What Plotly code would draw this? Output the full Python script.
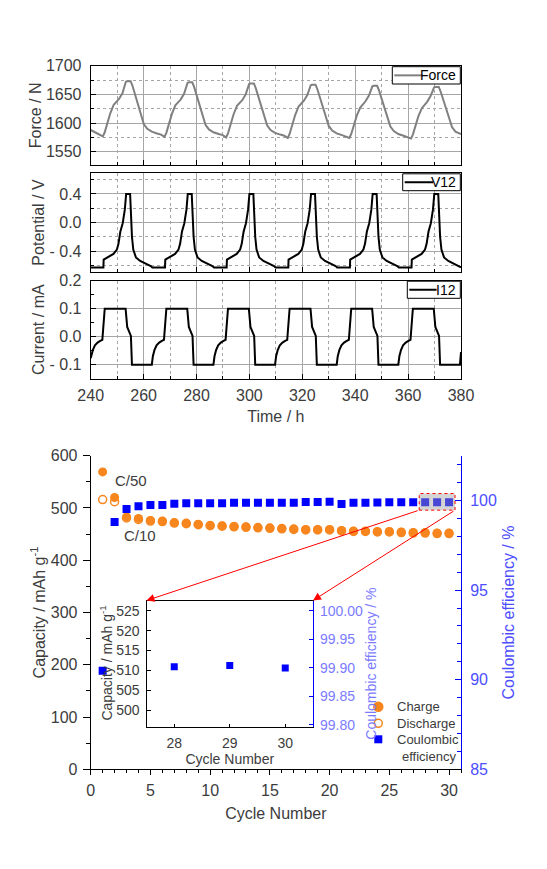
import plotly.graph_objects as go

# ---------------- data: top panels (time series) ----------------
T_FORCE = [240.0, 242.0, 244.6,
           245.3, 247.4, 248.7, 249.9, 250.7, 252.0, 253.3, 253.8, 255.1, 255.8, 257.0, 258.6, 260.1, 261.4, 263.1, 265.1, 266.6, 267.9,
           268.6, 270.7, 272.0, 273.2, 274.0, 275.3, 276.6, 277.1, 278.4, 279.1, 280.3, 281.9, 283.4, 284.7, 286.4, 288.4, 289.9, 291.2,
           291.9, 294.0, 295.3, 296.5, 297.3, 298.6, 299.9, 300.4, 301.7, 302.4, 303.6, 305.2, 306.7, 308.0, 309.7, 311.7, 313.2, 314.5,
           315.2, 317.3, 318.6, 319.8, 320.6, 321.9, 323.2, 323.7, 325.0, 325.7, 326.9, 328.5, 330.0, 331.3, 333.0, 335.0, 336.5, 337.8,
           338.5, 340.6, 341.9, 343.1, 343.9, 345.2, 346.5, 347.0, 348.3, 349.0, 350.2, 351.8, 353.3, 354.6, 356.3, 358.3, 359.8, 361.1,
           361.8, 363.9, 365.2, 366.4, 367.2, 368.5, 369.8, 370.3, 371.6, 372.3, 373.5, 375.1, 376.6, 377.9, 379.6, 380.0]
FORCE = [1588, 1583, 1577,
         1584, 1617, 1632, 1638, 1642, 1652, 1672, 1673, 1673, 1665, 1646, 1624, 1598, 1590, 1585, 1582, 1580, 1576,
         1583, 1616, 1631, 1637, 1641, 1651, 1670, 1671, 1671, 1663, 1645, 1622, 1597, 1589, 1584, 1581, 1579, 1575,
         1582, 1615, 1630, 1636, 1640, 1650, 1668, 1669, 1669, 1661, 1643, 1621, 1596, 1588, 1583, 1580, 1578, 1574,
         1581, 1614, 1629, 1635, 1639, 1649, 1666, 1667, 1667, 1659, 1641, 1619, 1595, 1587, 1582, 1579, 1577, 1574,
         1581, 1613, 1627, 1634, 1638, 1648, 1664, 1665, 1665, 1657, 1640, 1618, 1594, 1586, 1581, 1578, 1576, 1573,
         1580, 1612, 1626, 1633, 1637, 1647, 1662, 1663, 1663, 1655, 1638, 1616, 1593, 1585, 1582, 1581]

T_V12 = [240.0, 244.8,
         244.9, 246.6, 248.6, 249.9, 250.5, 251.2, 252.1, 252.9, 253.4, 254.9, 255.2, 255.6, 256.1, 257.1, 258.7, 261.1, 262.7, 263.3, 268.1,
         268.2, 269.9, 271.9, 273.2, 273.8, 274.5, 275.4, 276.2, 276.7, 278.2, 278.5, 278.9, 279.4, 280.4, 282.0, 284.4, 286.0, 286.6, 291.4,
         291.5, 293.2, 295.2, 296.5, 297.1, 297.8, 298.7, 299.5, 300.0, 301.5, 301.8, 302.2, 302.7, 303.7, 305.3, 307.7, 309.3, 309.9, 314.7,
         314.8, 316.5, 318.5, 319.8, 320.4, 321.1, 322.0, 322.8, 323.3, 324.8, 325.1, 325.5, 326.0, 327.0, 328.6, 331.0, 332.6, 333.2, 338.0,
         338.1, 339.8, 341.8, 343.1, 343.7, 344.4, 345.3, 346.1, 346.6, 348.1, 348.4, 348.8, 349.3, 350.3, 351.9, 354.3, 355.9, 356.5, 361.3,
         361.4, 363.1, 365.1, 366.4, 367.0, 367.7, 368.6, 369.4, 369.9, 371.4, 371.7, 372.1, 372.6, 373.6, 375.2, 377.6, 379.2, 380.0]
V12 = [-0.63, -0.63,
       -0.52, -0.48, -0.44, -0.38, -0.30, -0.13, -0.01, 0.18, 0.40, 0.40, 0.10, -0.20, -0.38, -0.49, -0.54, -0.58, -0.61, -0.63, -0.63,
       -0.52, -0.48, -0.44, -0.38, -0.30, -0.13, -0.01, 0.18, 0.40, 0.40, 0.10, -0.20, -0.38, -0.49, -0.54, -0.58, -0.61, -0.63, -0.63,
       -0.52, -0.48, -0.44, -0.38, -0.30, -0.13, -0.01, 0.18, 0.40, 0.40, 0.10, -0.20, -0.38, -0.49, -0.54, -0.58, -0.61, -0.63, -0.63,
       -0.52, -0.48, -0.44, -0.38, -0.30, -0.13, -0.01, 0.18, 0.40, 0.40, 0.10, -0.20, -0.38, -0.49, -0.54, -0.58, -0.61, -0.63, -0.63,
       -0.52, -0.48, -0.44, -0.38, -0.30, -0.13, -0.01, 0.18, 0.40, 0.40, 0.10, -0.20, -0.38, -0.49, -0.54, -0.58, -0.61, -0.63, -0.63,
       -0.52, -0.48, -0.44, -0.38, -0.30, -0.13, -0.01, 0.18, 0.40, 0.40, 0.10, -0.20, -0.38, -0.49, -0.54, -0.58, -0.61, -0.63]

T_I12 = [240.0, 240.8, 241.6, 242.6, 243.6, 244.4,
         245.3, 253.2, 253.8, 254.5, 255.2, 255.6, 263.1, 263.5, 264.1, 264.9, 265.9, 266.9, 267.7,
         268.6, 276.5, 277.1, 277.8, 278.5, 278.9, 286.4, 286.8, 287.4, 288.2, 289.2, 290.2, 291.0,
         291.9, 299.8, 300.4, 301.1, 301.8, 302.2, 309.7, 310.1, 310.7, 311.5, 312.5, 313.5, 314.3,
         315.2, 323.1, 323.7, 324.4, 325.1, 325.5, 333.0, 333.4, 334.0, 334.8, 335.8, 336.8, 337.6,
         338.5, 346.4, 347.0, 347.7, 348.4, 348.8, 356.3, 356.7, 357.3, 358.1, 359.1, 360.1, 360.9,
         361.8, 369.7, 370.3, 371.0, 371.7, 372.1, 379.6, 380.0]
I12 = [-0.077, -0.048, -0.031, -0.021, -0.015, -0.011,
       0.100, 0.100, 0.035, 0.020, 0.003, -0.100, -0.100, -0.070, -0.048, -0.031, -0.021, -0.015, -0.011,
       0.100, 0.100, 0.035, 0.020, 0.003, -0.100, -0.100, -0.070, -0.048, -0.031, -0.021, -0.015, -0.011,
       0.100, 0.100, 0.035, 0.020, 0.003, -0.100, -0.100, -0.070, -0.048, -0.031, -0.021, -0.015, -0.011,
       0.100, 0.100, 0.035, 0.020, 0.003, -0.100, -0.100, -0.070, -0.048, -0.031, -0.021, -0.015, -0.011,
       0.100, 0.100, 0.035, 0.020, 0.003, -0.100, -0.100, -0.070, -0.048, -0.031, -0.021, -0.015, -0.011,
       0.100, 0.100, 0.035, 0.020, 0.003, -0.100, -0.100, -0.055]

# ---------------- data: cycling ----------------
CYCLES = list(range(1, 31))
CHARGE = [569, 520, 483, 480, 476, 475, 472, 471, 469, 467, 466, 465, 464, 463, 462,
          461, 460, 459, 459, 459, 457, 456, 456, 455, 455, 454, 453, 453, 452, 452]
DISCHARGE = [516, 512, 481, 478, 475, 474, 471, 470, 468, 466, 465, 464, 463, 462, 461,
             460, 459, 458, 458, 458, 456, 455, 455, 454, 454, 453, 452, 452, 451, 451]
CE = [90.5, 98.8, 99.53, 99.68, 99.75, 99.75, 99.82, 99.84, 99.84, 99.84, 99.85, 99.87, 99.87, 99.88, 99.88,
      99.88, 99.88, 99.91, 99.92, 99.93, 99.81, 99.88, 99.88, 99.89, 99.90, 99.90, 99.90, 99.902, 99.904, 99.900]
INSET_CYCLES = [28, 29, 30]

X_TICKS_TIME = [240, 260, 280, 300, 320, 340, 360, 380]
FORCE_TICKS = [1550, 1600, 1650, 1700]
V_TICKS = [-0.4, 0.0, 0.4]
V_TICKTEXT = ["- 0.4", "0.0", "0.4"]
I_TICKS = [-0.1, 0.0, 0.1, 0.2]
I_TICKTEXT = ["- 0.1", "0.0", "0.1", "0.2"]
CE_TICKS = [85, 90, 95, 100]
INSET_CE_TICKS = [99.80, 99.85, 99.90, 99.95, 100.00]

# ---------------- layout geometry ----------------
# the page body adds an 8 px offset; the figure is sized to fill the rest of the window
PAGE_OFF = 8
W, H = 547 - PAGE_OFF, 869 - PAGE_OFF
def fx(p): return (p - PAGE_OFF) / W
def fy(p): return 1 - (p - PAGE_OFF) / H

XDOM = [fx(90.7), fx(461)]
FORCE_DOM = [fy(165), fy(65.7)]
V_DOM = [fy(271.7), fy(173.3)]
I_DOM = [fy(378.7), fy(280.7)]
BOT_YDOM = [fy(769.3), fy(455.7)]
INSET_XDOM = [fx(146.5), fx(313)]
INSET_YDOM = [fy(726.7), fy(600.5)]

X4_RANGE = [0, 31]
Y4_RANGE = [0, 600]
INSET_XR = [27.5, 30.5]
INSET_YR = [495.8, 527.6]

FONT = "Liberation Sans, Arial, sans-serif"
TXT = "#3c3c3c"
ORANGE = "#F7861E"
BLUE = "#0000FF"
LBLUE = "#4d4dff"
GRID = "#a6a6a6"

fig = go.Figure()
fig.add_trace(go.Scatter(x=T_FORCE, y=FORCE, mode="lines", name="Force", showlegend=False,
                         line=dict(color="#808080", width=2), xaxis="x", yaxis="y"))
fig.add_trace(go.Scatter(x=T_V12, y=V12, mode="lines", name="V12", showlegend=False,
                         line=dict(color="black", width=2), xaxis="x2", yaxis="y2"))
fig.add_trace(go.Scatter(x=T_I12, y=I12, mode="lines", name="I12", showlegend=False,
                         line=dict(color="black", width=2), xaxis="x3", yaxis="y3"))

fig.add_trace(go.Scatter(x=CYCLES, y=CHARGE, mode="markers", name="Charge", showlegend=False,
                         marker=dict(symbol="circle", size=9, color=ORANGE), xaxis="x4", yaxis="y4"))
fig.add_trace(go.Scatter(x=CYCLES, y=DISCHARGE, mode="markers", name="Discharge", showlegend=False,
                         marker=dict(symbol="circle-open", size=8, color=ORANGE, line=dict(width=1.5, color=ORANGE)),
                         xaxis="x4", yaxis="y4"))
fig.add_trace(go.Scatter(x=CYCLES, y=CE, mode="markers", name="Coulombic efficiency", showlegend=False,
                         marker=dict(symbol="square", size=8, color=BLUE), xaxis="x4", yaxis="y5"))

# inset: zoom of cycles 28-30
fig.add_trace(go.Scatter(x=INSET_CYCLES, y=CHARGE[27:30], mode="markers", showlegend=False,
                         marker=dict(symbol="circle", size=9, color=ORANGE), xaxis="x5", yaxis="y6"))
fig.add_trace(go.Scatter(x=INSET_CYCLES, y=CE[27:30], mode="markers", showlegend=False,
                         marker=dict(symbol="square", size=7, color=BLUE), xaxis="x5", yaxis="y7"))

tickfont = dict(family=FONT, size=16, color=TXT)
titlefont = dict(family=FONT, size=16, color=TXT)

def top_x(anchor, show_labels):
    return dict(domain=XDOM, range=[240, 380], anchor=anchor, tickvals=X_TICKS_TIME, automargin=False,
                showticklabels=show_labels, ticks="inside", ticklen=5, tickcolor="black",
                showgrid=True, gridcolor=GRID, gridwidth=1,
                minor=dict(dtick=10, tick0=240, ticks="inside", ticklen=3, tickcolor="black",
                           showgrid=True, gridcolor=GRID, griddash="dot", gridwidth=1),
                showline=True, linecolor="black", linewidth=1, mirror=True, zeroline=False,
                tickfont=tickfont, ticklabelstandoff=2)

def top_y(dom, rng, tv, tt, minor_vals, title, anchor, show_minor_grid=True):
    return dict(domain=dom, range=rng, anchor=anchor, tickvals=tv, ticktext=tt, automargin=False,
                ticks="inside", ticklen=5, tickcolor="black",
                showgrid=True, gridcolor=GRID, gridwidth=1,
                minor=dict(tickvals=minor_vals, ticks="inside", ticklen=3, tickcolor="black",
                           showgrid=show_minor_grid, gridcolor=GRID, griddash="dot", gridwidth=1),
                showline=True, linecolor="black", linewidth=1, mirror=True, zeroline=False,
                tickfont=tickfont, ticklabelstandoff=5,
                title=dict(text=title, font=titlefont, standoff=0))

fig.update_layout(
    width=W, height=H, margin=dict(l=0, r=0, t=0, b=0, autoexpand=False),
    paper_bgcolor="white", plot_bgcolor="rgba(0,0,0,0)", showlegend=False,
    font=dict(family=FONT, color=TXT),
    xaxis=top_x("y", False),
    xaxis2=top_x("y2", False),
    xaxis3=dict(top_x("y3", True), title=dict(text="Time / h", font=titlefont, standoff=7)),
    yaxis=top_y(FORCE_DOM, [1527, 1700], FORCE_TICKS, [str(v) for v in FORCE_TICKS],
                [1575, 1625, 1675], "Force / N", "x"),
    yaxis2=top_y(V_DOM, [-0.69, 0.69], V_TICKS, V_TICKTEXT, [-0.6, -0.2, 0.2, 0.6], "Potential / V", "x2"),
    yaxis3=top_y(I_DOM, [-0.15, 0.2], I_TICKS, I_TICKTEXT, [-0.05, 0.05, 0.15], "Current / mA", "x3",
                 show_minor_grid=False),
    xaxis4=dict(domain=XDOM, range=X4_RANGE, anchor="y4", dtick=5, tick0=0, automargin=False,
                ticks="outside", ticklen=5, tickcolor="black",
                minor=dict(dtick=1, ticks="outside", ticklen=3, tickcolor="black"),
                showline=True, linecolor="black", linewidth=1, showgrid=False, zeroline=False,
                tickfont=tickfont, ticklabelstandoff=1,
                title=dict(text="Cycle Number", font=titlefont, standoff=10)),
    yaxis4=dict(domain=BOT_YDOM, range=Y4_RANGE, anchor="x4", dtick=100, tick0=0, automargin=False,
                ticks="outside", ticklen=7, tickcolor="black",
                minor=dict(dtick=50, ticks="outside", ticklen=4, tickcolor="black"),
                showline=True, linecolor="black", linewidth=1, showgrid=False, zeroline=False,
                tickfont=tickfont, ticklabelstandoff=2,
                title=dict(text="Capacity / mAh g<sup>-1</sup>", font=titlefont, standoff=1)),
    yaxis5=dict(overlaying="y4", side="right", anchor="x4", range=[85, 102.5], tickvals=CE_TICKS, automargin=False,
                ticks="inside", ticklen=6, tickcolor=BLUE,
                minor=dict(dtick=1, tick0=85, ticks="inside", ticklen=4, tickcolor=BLUE),
                showline=True, linecolor=BLUE, linewidth=1, showgrid=False, zeroline=False,
                tickfont=dict(family=FONT, size=16, color=LBLUE), ticklabelstandoff=5,
                title=dict(text="Coulombic efficiency / %", font=dict(family=FONT, size=16, color=LBLUE), standoff=6)),
    xaxis5=dict(domain=INSET_XDOM, range=INSET_XR, anchor="y6", tickvals=INSET_CYCLES, automargin=False,
                ticks="inside", ticklen=3, tickcolor="black",
                showline=True, linecolor="black", linewidth=1.3, mirror=True, showgrid=False, zeroline=False,
                tickfont=dict(family=FONT, size=14, color=TXT), ticklabelstandoff=3,
                title=dict(text="Cycle Number", font=dict(family=FONT, size=14, color=TXT), standoff=4)),
    yaxis6=dict(domain=INSET_YDOM, range=INSET_YR, anchor="x5", dtick=5, tick0=500, automargin=False,
                ticks="inside", ticklen=4, tickcolor="black",
                showline=True, linecolor="black", linewidth=1.3, showgrid=False, zeroline=False,
                tickfont=dict(family=FONT, size=14, color=TXT), ticklabelstandoff=3),
    yaxis7=dict(overlaying="y6", side="right", anchor="x5", range=[99.797, 100.018], tickvals=INSET_CE_TICKS,
                automargin=False, tickformat=".2f", ticks="inside", ticklen=4, tickcolor=BLUE,
                showline=True, linecolor=BLUE, linewidth=1.3, showgrid=False, zeroline=False,
                tickfont=dict(family=FONT, size=14, color="#7b7bff"), ticklabelstandoff=3,
                title=dict(text="Coulombic efficiency / %", font=dict(family=FONT, size=14, color="#7b7bff"), standoff=1)),
)

# inset left-axis title, placed tight against its tick labels
fig.add_annotation(xref="paper", yref="paper", x=fx(106), y=(INSET_YDOM[0] + INSET_YDOM[1]) / 2,
                   text="Capacity / mAh g<sup>-1</sup>", textangle=-90, showarrow=False,
                   xanchor="center", yanchor="middle", font=dict(family=FONT, size=14, color=TXT))

# boxed legends of the three time-series panels (line sample + name)
PANEL_LEGENDS = [
    # name, colour, box x0, box x1, box top, box bottom, line end
    ("Force", "#808080", 392.3, 460.3, 66.7, 84.0, 423.0),
    ("V12", "black", 402.7, 460.3, 173.8, 190.7, 433.0),
    ("I12", "black", 407.3, 460.3, 281.2, 298.3, 436.6),
]
for name, col, x0, x1, yt, yb, xl in PANEL_LEGENDS:
    fig.add_shape(type="rect", xref="paper", yref="paper", x0=fx(x0), x1=fx(x1), y0=fy(yb), y1=fy(yt),
                  line=dict(color="black", width=1), fillcolor="white", layer="above")
    ym = (yt + yb) / 2
    fig.add_shape(type="line", xref="paper", yref="paper", x0=fx(x0 + 2), x1=fx(xl), y0=fy(ym), y1=fy(ym),
                  line=dict(color=col, width=2), layer="above")
    fig.add_annotation(xref="paper", yref="paper", x=fx(x1 - 2), y=fy(ym), text=name, showarrow=False,
                       xanchor="right", yanchor="middle", font=dict(family=FONT, size=14, color="black"))

# legend of the cycling plot (symbol + label)
CYC_LEGEND = [
    # label, symbol kind, symbol centre y
    ("Charge", "filled", 706.7),
    ("Discharge", "open", 723.3),
    ("Coulombic", "square", 739.3),
]
LEG_SX, LEG_TX = 378.3, 395
for label, kind, yc in CYC_LEGEND:
    r = 4.5 if kind == "filled" else 4
    if kind == "square":
        fig.add_shape(type="rect", xref="paper", yref="paper", x0=fx(LEG_SX - r), x1=fx(LEG_SX + r),
                      y0=fy(yc + r), y1=fy(yc - r), line=dict(width=0), fillcolor=BLUE, layer="above")
    else:
        fig.add_shape(type="circle", xref="paper", yref="paper", x0=fx(LEG_SX - r), x1=fx(LEG_SX + r),
                      y0=fy(yc + r), y1=fy(yc - r), line=dict(color=ORANGE, width=1.5),
                      fillcolor=ORANGE if kind == "filled" else "rgba(0,0,0,0)", layer="above")
    fig.add_annotation(xref="paper", yref="paper", x=fx(LEG_TX), y=fy(yc), text=label, showarrow=False,
                       xanchor="left", yanchor="middle", font=dict(family=FONT, size=13, color=TXT))
fig.add_annotation(xref="paper", yref="paper", x=fx(400), y=fy(756.7), text="efficiency", showarrow=False,
                   xanchor="left", yanchor="middle", font=dict(family=FONT, size=13, color=TXT))

# zoomed region marker box (cycles 28-30 in inset range)
fig.add_shape(type="rect", xref="x4", yref="y4", x0=INSET_XR[0], x1=INSET_XR[1], y0=INSET_YR[0], y1=INSET_YR[1],
              line=dict(color="red", width=1, dash="dot"), fillcolor="rgba(160,160,160,0.45)", layer="above")

# arrows from box corners to inset corners: convert inset corners (paper) to x4/y4 data coords
def paper_to_x4(p):
    return X4_RANGE[0] + (p - XDOM[0]) / (XDOM[1] - XDOM[0]) * (X4_RANGE[1] - X4_RANGE[0])
def paper_to_y4(p):
    return Y4_RANGE[0] + (p - BOT_YDOM[0]) / (BOT_YDOM[1] - BOT_YDOM[0]) * (Y4_RANGE[1] - Y4_RANGE[0])

for bx, ix in [(INSET_XR[0], INSET_XDOM[0]), (INSET_XR[1], INSET_XDOM[1])]:
    fig.add_annotation(xref="x4", yref="y4", axref="x4", ayref="y4",
                       x=paper_to_x4(ix), y=paper_to_y4(INSET_YDOM[1]), ax=bx, ay=INSET_YR[0],
                       text="", showarrow=True, arrowhead=2, arrowsize=1.6, arrowwidth=1, arrowcolor="red")

fig.add_annotation(xref="x4", yref="y4", x=1.9, y=552, text="C/50", showarrow=False, xanchor="left",
                   font=dict(family=FONT, size=15, color=TXT))
fig.add_annotation(xref="x4", yref="y4", x=2.6, y=448, text="C/10", showarrow=False, xanchor="left",
                   font=dict(family=FONT, size=15, color=TXT))

fig.write_html("out.html")
